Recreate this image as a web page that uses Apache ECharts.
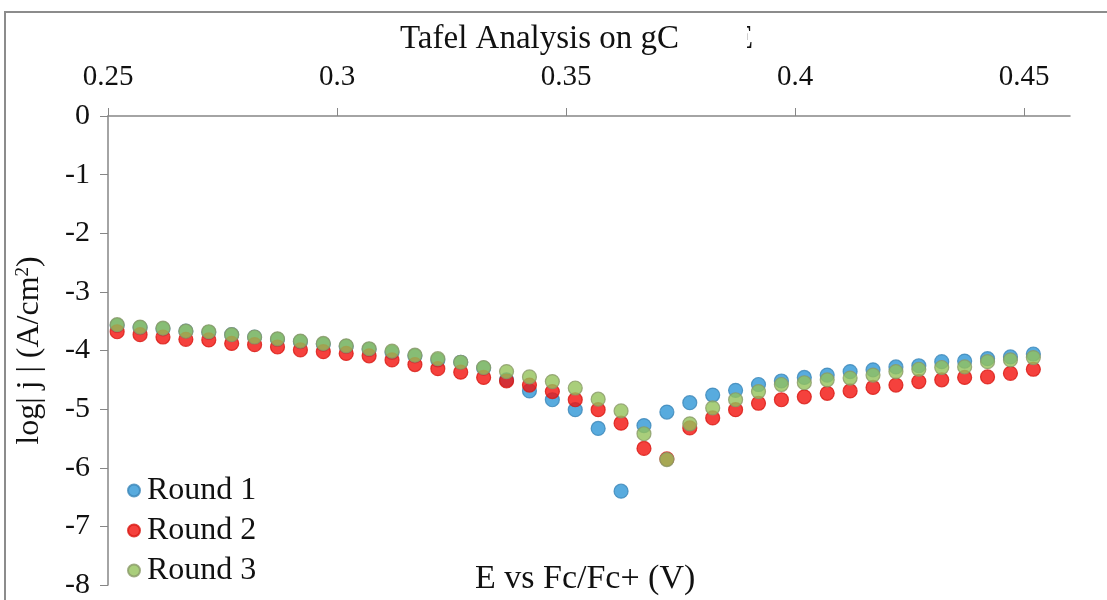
<!DOCTYPE html>
<html>
<head>
<meta charset="utf-8">
<script src="https://cdn.jsdelivr.net/npm/echarts@6/dist/echarts.min.js"></script>
<style>
html,body{margin:0;padding:0;background:#fff;}
#chart{width:1107px;height:600px;}
</style>
</head>
<body>
<div id="chart"></div>
<script>
// Potential (V vs Fc/Fc+)
const potential = [0.252,0.257,0.262,0.267,0.272,0.277,0.282,0.287,0.292,0.297,
  0.302,0.307,0.312,0.317,0.322,0.327,0.332,0.337,0.342,0.347,
  0.352,0.357,0.362,0.367,0.372,0.377,0.382,0.387,0.392,0.397,
  0.402,0.407,0.412,0.417,0.422,0.427,0.432,0.437,0.442,0.447,0.452];
const round1 = [-3.57,-3.61,-3.63,-3.67,-3.69,-3.73,-3.77,-3.81,-3.85,-3.89,
  -3.93,-3.98,-4.03,-4.09,-4.16,-4.20,-4.30,-4.50,-4.69,-4.84,
  -5.01,-5.33,-6.40,-5.28,-5.05,-4.89,-4.76,-4.68,-4.58,-4.52,
  -4.46,-4.42,-4.36,-4.33,-4.28,-4.26,-4.19,-4.18,-4.14,-4.11,-4.06];
const round2 = [-3.68,-3.73,-3.77,-3.81,-3.82,-3.88,-3.90,-3.94,-3.99,-4.02,
  -4.05,-4.09,-4.16,-4.24,-4.31,-4.37,-4.46,-4.52,-4.59,-4.70,
  -4.84,-5.01,-5.24,-5.67,-5.85,-5.32,-5.15,-5.01,-4.90,-4.84,
  -4.79,-4.73,-4.69,-4.63,-4.59,-4.53,-4.50,-4.46,-4.45,-4.39,-4.32];
const round3 = [-3.56,-3.60,-3.62,-3.67,-3.68,-3.73,-3.77,-3.80,-3.84,-3.88,
  -3.92,-3.97,-4.01,-4.08,-4.14,-4.20,-4.29,-4.36,-4.45,-4.53,
  -4.64,-4.83,-5.03,-5.42,-5.86,-5.25,-4.98,-4.84,-4.70,-4.58,
  -4.55,-4.50,-4.47,-4.42,-4.36,-4.32,-4.29,-4.28,-4.19,-4.16,-4.12];
const seriesNames = ['Round 1','Round 2','Round 3'];
const xTicks = [0.25,0.3,0.35,0.4,0.45];
const yTicks = [0,-1,-2,-3,-4,-5,-6,-7,-8];

const FONT = 'Liberation Serif';
const pair = (ys) => potential.map((x,i)=>[x, ys[i]]);

const chart = echarts.init(document.getElementById('chart'), null, {renderer:'canvas'});
const mk = (name, ys, fill, border) => ({
  name, type:'scatter', data: pair(ys), symbol:'circle', symbolSize:14,
  itemStyle:{color:fill, borderColor:border, borderWidth:1.2}, emphasis:{disabled:true}
});
chart.setOption({
  animation:false,
  backgroundColor:'#fff',
  grid:{left:108, right:37, top:116, bottom:12, containLabel:false},
  legend:{
    orient:'vertical', left:122, top:469, itemGap:7, itemWidth:12, itemHeight:12,
    icon:'circle',
    textStyle:{fontFamily:FONT, fontSize:32, color:'#111', lineHeight:33, padding:[0,0,0,2]},
    data: seriesNames
  },
  xAxis:{
    type:'value', position:'top', min:0.25, max:0.46, interval:0.05,
    axisLine:{onZero:false, lineStyle:{color:'#868686', width:1.5}},
    axisTick:{show:true, length:8, customValues:xTicks, lineStyle:{color:'#868686'}},
    axisLabel:{customValues:xTicks, fontFamily:FONT, fontSize:29, color:'#111', margin:24},
    splitLine:{show:false}
  },
  yAxis:{
    type:'value', min:-8, max:0, interval:1,
    axisLine:{show:true, onZero:false, lineStyle:{color:'#868686', width:1.5}},
    axisTick:{show:true, length:8, lineStyle:{color:'#868686'}},
    axisLabel:{fontFamily:FONT, fontSize:30, color:'#111', margin:18},
    splitLine:{show:false},
    name:'{a|log| j | (A/cm}{s|2}{a|)}', nameLocation:'middle', nameGap:62, nameRotate:90,
    nameTextStyle:{rich:{
      a:{fontFamily:FONT, fontSize:32, color:'#111'},
      s:{fontFamily:FONT, fontSize:19, color:'#111', verticalAlign:'top', padding:[0,0,12,0]}
    }}
  },
  series:[
    mk(seriesNames[0], round1, '#2e96d6', '#3b86b8'),
    mk(seriesNames[1], round2, '#f2110d', '#d81812'),
    mk(seriesNames[2], round3, '#93c25a', '#8a9a68')
  ],
  graphic:[
    {type:'rect', shape:{x:5, y:12, width:1200, height:700}, style:{fill:'none', stroke:'#8c8c8c', lineWidth:2}, z:0, silent:true},
    {type:'text', left:400, top:23, style:{text:'Tafel Analysis on gC', font:'33px "Liberation Serif"', fill:'#111'}, z:5},
    {type:'text', left:733, top:23, style:{text:'E', font:'33px "Liberation Serif"', fill:'#111'}, z:5},
    {type:'rect', shape:{x:700, y:18, width:47, height:44}, style:{fill:'#fff'}, z:6, silent:true},
    {type:'text', left:475, top:562, style:{text:'E vs Fc/Fc+ (V)', font:'34px "Liberation Serif"', fill:'#111'}, z:5}
  ]
});
</script>
</body>
</html>
